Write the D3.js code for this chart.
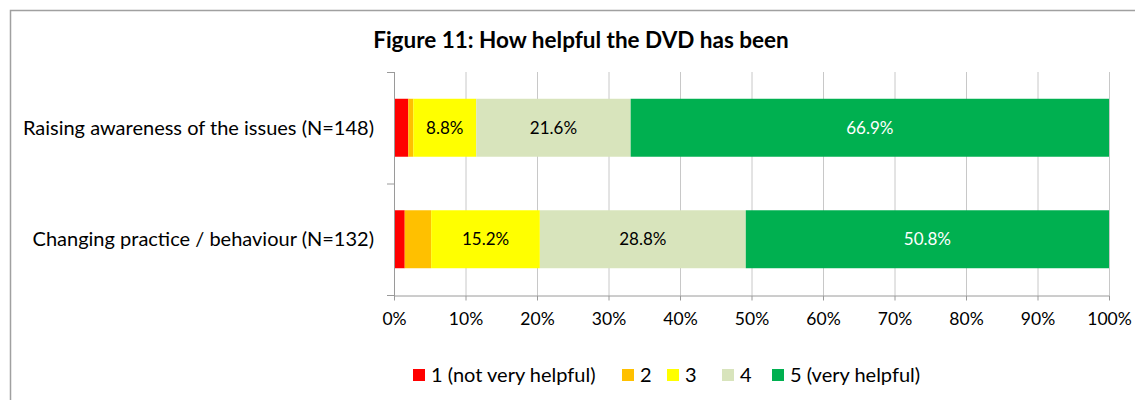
<!DOCTYPE html>
<html>
<head>
<meta charset="utf-8">
<script src="https://cdn.jsdelivr.net/npm/d3@7"></script>
<style>
  body { margin: 0; background: #fff; }
  svg { display: block; font-family: Lato, "Open Sans", sans-serif; }
</style>
</head>
<body>
<svg id="chart" width="1135" height="400"></svg>
<script>
  var categories = ['Raising awareness of the issues (N=148)', 'Changing practice / behaviour (N=132)']
  var seriesNames = ['1 (not very helpful)', '2', '3', '4', '5 (very helpful)']
  var seriesColors = ['#ff0000', '#ffc000', '#ffff00', '#d8e4bc', '#00b050']
  var labelColors = ['#000', '#000', '#000', '#000', '#fff']
  // percent per category, in series order
  var values = [
    [2.0, 0.7, 8.8, 21.6, 66.9],
    [1.5, 3.7, 15.2, 28.8, 50.8]
  ]
  var showLabel = [false, false, true, true, true]
  var ticks = [0, 10, 20, 30, 40, 50, 60, 70, 80, 90, 100]

  var svg = d3.select('#chart')
  var margin = { left: 394, right: 26, top: 72, bottom: 105 }
  var width = 1135, height = 400

  // chart frame
  svg.append('rect')
    .attr('x', 10.5).attr('y', 10.5)
    .attr('width', 1140).attr('height', 400)
    .attr('fill', 'none').attr('stroke', '#a0a0a0').attr('stroke-width', 1.5)

  svg.append('text')
    .attr('x', 581).attr('y', 48)
    .attr('text-anchor', 'middle')
    .attr('font-size', 22.5).attr('font-weight', 'bold')
    .attr('fill', '#000')
    .text('Figure 11: How helpful the DVD has been')

  var x = d3.scaleLinear().domain([0, 100]).range([margin.left, width - margin.right])
  var y = d3.scaleBand().domain(categories).range([margin.top, height - margin.bottom]).paddingInner(0.48).paddingOuter(0.24)

  // gridlines
  svg.append('g').selectAll('line').data(ticks.slice(1)).join('line')
    .attr('x1', d => x(d) + 0.5).attr('x2', d => x(d) + 0.5)
    .attr('y1', margin.top).attr('y2', height - margin.bottom)
    .attr('stroke', '#c8c8c8').attr('stroke-width', 1)

  // stacked bars
  var rows = categories.map(function (c, i) {
    var acc = 0
    return values[i].map(function (v, j) {
      var seg = { cat: c, s: j, x0: acc, x1: acc + v, v: v }
      acc += v
      return seg
    })
  })

  var segs = svg.append('g').selectAll('g').data(rows).join('g')
  segs.selectAll('rect').data(d => d).join('rect')
    .attr('x', d => x(d.x0))
    .attr('width', d => x(d.x1) - x(d.x0))
    .attr('y', d => y(d.cat))
    .attr('height', y.bandwidth())
    .attr('fill', d => seriesColors[d.s])

  segs.selectAll('text').data(d => d.filter(s => showLabel[s.s])).join('text')
    .attr('x', d => (x(d.x0) + x(d.x1)) / 2)
    .attr('y', d => y(d.cat) + y.bandwidth() / 2)
    .attr('dy', '0.36em')
    .attr('text-anchor', 'middle')
    .attr('font-size', 17)
    .attr('fill', d => labelColors[d.s])
    .text(d => d.v.toFixed(1) + '%')

  // bottom axis
  var xAxis = svg.append('g')
    .attr('transform', 'translate(0,' + (height - margin.bottom + 0.5) + ')')
    .call(d3.axisBottom(x).tickValues(ticks).tickFormat(d => d + '%').tickSize(5).tickSizeOuter(0))
  xAxis.select('.domain').attr('stroke', '#9a9a9a')
  xAxis.selectAll('.tick line').attr('stroke', '#9a9a9a')
  xAxis.selectAll('.tick text').attr('font-size', 17.5).attr('font-family', 'Lato, sans-serif')
    .attr('fill', '#000').attr('dy', '1.2em')

  // left axis: separators between categories
  var sepY = [margin.top, margin.top + (height - margin.bottom - margin.top) / 2, height - margin.bottom]
  svg.append('line')
    .attr('x1', margin.left + 0.5).attr('x2', margin.left + 0.5)
    .attr('y1', margin.top).attr('y2', height - margin.bottom + 5)
    .attr('stroke', '#9a9a9a')
  svg.append('g').selectAll('line').data(sepY).join('line')
    .attr('x1', margin.left - 7).attr('x2', margin.left)
    .attr('y1', d => d + 0.5).attr('y2', d => d + 0.5)
    .attr('stroke', '#9a9a9a')

  svg.append('g').selectAll('text').data(categories).join('text')
    .attr('x', margin.left - 20)
    .attr('y', d => y(d) + y.bandwidth() / 2)
    .attr('dy', '0.36em')
    .attr('text-anchor', 'end')
    .attr('font-size', 20)
    .attr('fill', '#000')
    .text(d => d)

  // legend
  var legendX = [413, 622, 667, 722, 772]
  var legend = svg.append('g').selectAll('g').data(seriesNames).join('g')
    .attr('transform', (d, i) => 'translate(' + legendX[i] + ',369)')
  legend.append('rect')
    .attr('width', 12).attr('height', 12)
    .attr('fill', (d, i) => seriesColors[i])
  legend.append('text')
    .attr('x', 18).attr('y', 6).attr('dy', '0.36em')
    .attr('font-size', 20).attr('fill', '#000')
    .text(d => d)
</script>
</body>
</html>
